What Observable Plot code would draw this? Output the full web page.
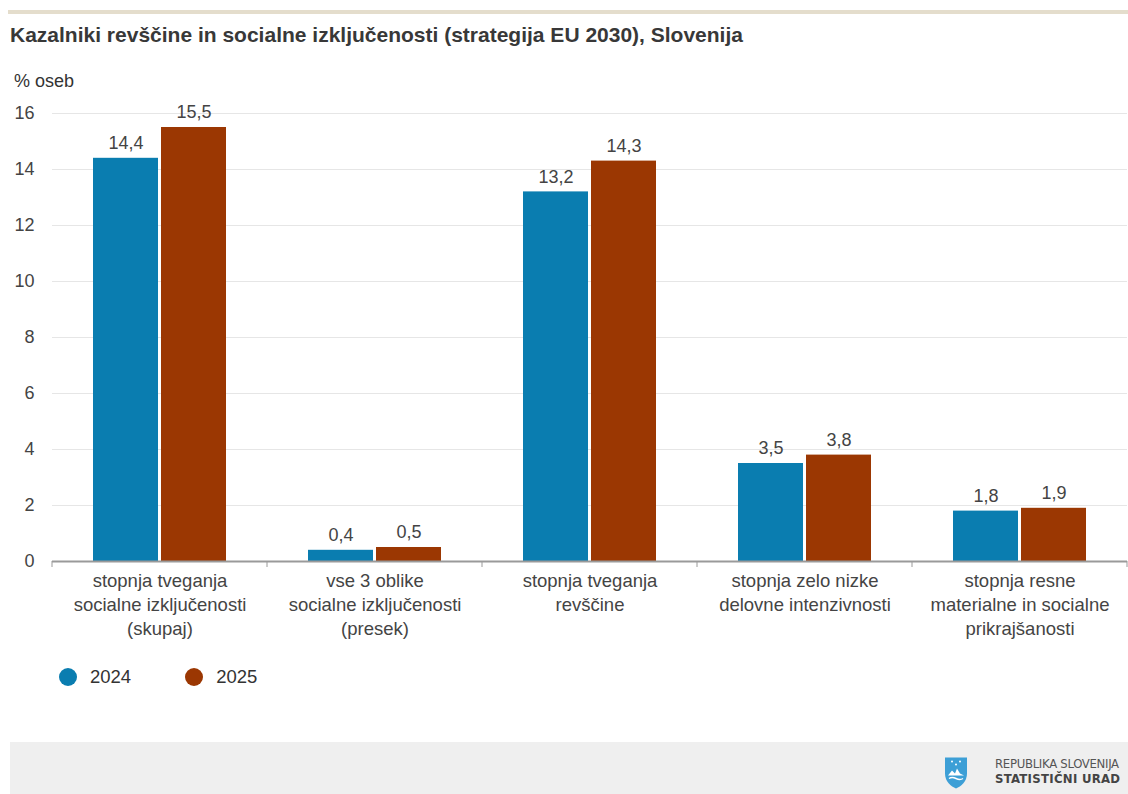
<!DOCTYPE html>
<html>
<head>
<meta charset="utf-8">
<script src="https://cdn.jsdelivr.net/npm/d3@7"></script>
<script src="https://cdn.jsdelivr.net/npm/@observablehq/plot@0.6"></script>
<style>
  html, body { margin: 0; padding: 0; background: #fff; }
  body { width: 1128px; height: 794px; position: relative; overflow: hidden; font-family: "Liberation Sans", Arial, sans-serif; color: #333; }
  .topline { position: absolute; left: 8px; right: 0; top: 10px; height: 4px; background: #e4ddcc; }
  .title { position: absolute; left: 10px; top: 23px; font-size: 21px; font-weight: bold; color: #383838; white-space: nowrap; }
  .unit { position: absolute; left: 14px; top: 71px; font-size: 18px; color: #333; }
  #chart { position: absolute; left: 0; top: 95px; }
  .legend { position: absolute; top: 666px; left: 59px; font-size: 18.5px; color: #333; display: flex; align-items: center; }
  .legend .item { display: flex; align-items: center; margin-right: 54px; }
  .legend .sw { width: 18px; height: 18px; border-radius: 50%; margin-right: 13px; }
  .footer { position: absolute; left: 10px; top: 742px; width: 1118px; height: 52px; background: #efefef; }
  .logo { position: absolute; left: 943px; top: 755px; }
  .org1 { position: absolute; left: 995px; top: 756px; font-size: 13px; color: #555; font-family: "Liberation Sans Narrow", "DejaVu Sans Condensed", sans-serif; white-space: nowrap; letter-spacing: -0.3px; }
  .org2 { position: absolute; left: 995px; top: 771px; font-size: 13px; font-weight: bold; color: #444; font-family: "DejaVu Sans Condensed", "Liberation Sans Narrow", sans-serif; white-space: nowrap; letter-spacing: 0.3px; }
</style>
</head>
<body>
<div class="topline"></div>
<div class="title">Kazalniki revščine in socialne izključenosti (strategija EU 2030), Slovenija</div>
<div class="unit">% oseb</div>
<div id="chart"></div>
<div class="legend" id="legend"></div>
<div class="footer"></div>
<svg class="logo" width="26" height="35" viewBox="0 0 26 34">
  <path d="M2 2 H24 V18 C24 26 18 31 13 33 C8 31 2 26 2 18 Z" fill="#3d9fd6"/>
  <path d="M5 20 L9 15 L12 18 L14 13 L17 18 L21 20 Z" fill="#ffffff"/>
  <path d="M6 23 Q9 21 13 23 Q17 25 20 23" stroke="#ffffff" stroke-width="1.4" fill="none"/>
  <circle cx="9" cy="6" r="1" fill="#fff"/><circle cx="17" cy="6" r="1" fill="#fff"/><circle cx="13" cy="9" r="1" fill="#fff"/>
</svg>
<div class="org1">REPUBLIKA SLOVENIJA</div>
<div class="org2">STATISTIČNI URAD</div>
<script>
const categories = [
  "stopnja tveganja\nsocialne izključenosti\n(skupaj)",
  "vse 3 oblike\nsocialne izključenosti\n(presek)",
  "stopnja tveganja\nrevščine",
  "stopnja zelo nizke\ndelovne intenzivnosti",
  "stopnja resne\nmaterialne in socialne\nprikrajšanosti"
];
const years = ["2024", "2025"];
const values2024 = [14.4, 0.4, 13.2, 3.5, 1.8];
const values2025 = [15.5, 0.5, 14.3, 3.8, 1.9];
const yTicks = [0, 2, 4, 6, 8, 10, 12, 14, 16];
const colors = ["#0a7db0", "#9b3702"];

const data = [];
categories.forEach((c, i) => {
  data.push({cat: c, year: years[0], value: values2024[i]});
  data.push({cat: c, year: years[1], value: values2025[i]});
});

const locale = d3.formatLocale({decimal: ",", thousands: ".", grouping: [3], currency: ["", " €"]});
const fmt = locale.format(".1f");

const plot = Plot.plot({
  width: 1128,
  height: 560,
  marginLeft: 52,
  marginRight: 1,
  marginTop: 18,
  marginBottom: 94,
  style: {fontFamily: "Liberation Sans, Arial, sans-serif", fontSize: "18px", color: "#444", background: "transparent"},
  fx: {domain: categories, padding: 0, label: null, axis: null},
  x: {domain: years, paddingInner: 0.0435, paddingOuter: 0.58, axis: null},
  y: {domain: [0, 16], ticks: yTicks, label: null, axis: null},
  color: {domain: years, range: colors},
  marks: [
    Plot.gridY(yTicks, {stroke: "#e6e6e6", strokeOpacity: 1, strokeWidth: 1}),
    Plot.axisY(yTicks, {anchor: "left", tickSize: 0, tickPadding: 18, label: null, fill: "#444", fontSize: 18}),
    Plot.axisFx({anchor: "bottom", tickSize: 0, tickPadding: 8, label: null, lineHeight: 1.31, fill: "#444", fontSize: 18.5}),
    Plot.barY(data, {fx: "cat", x: "year", y: "value", fill: "year"}),
    Plot.ruleY([0], {stroke: "#9a9a9a", strokeWidth: 2}),
    Plot.text(data, {fx: "cat", x: "year", y: "value", text: d => fmt(d.value), dy: -15, fill: "#444", fontSize: 18})
  ]
});
document.getElementById("chart").appendChild(plot);

// band separators on the baseline, positioned with the plot's fx scale
const fxs = plot.scale("fx");
const yScale = plot.scale("y");
const y0 = yScale.apply(0);
const svg = d3.select(plot.tagName === "svg" ? plot : plot.querySelector("svg"));
const edges = categories.map(c => fxs.apply(c)).concat([fxs.apply(categories[categories.length - 1]) + fxs.bandwidth]);
svg.append("g").selectAll("line").data(edges).join("line")
  .attr("x1", d => d).attr("x2", d => d)
  .attr("y1", y0).attr("y2", y0 + 6)
  .attr("stroke", "#9a9a9a").attr("stroke-width", 1);

const legend = d3.select("#legend");
years.forEach((y, i) => {
  const it = legend.append("div").attr("class", "item");
  it.append("div").attr("class", "sw").style("background", colors[i]);
  it.append("span").text(y);
});
</script>
</body>
</html>
